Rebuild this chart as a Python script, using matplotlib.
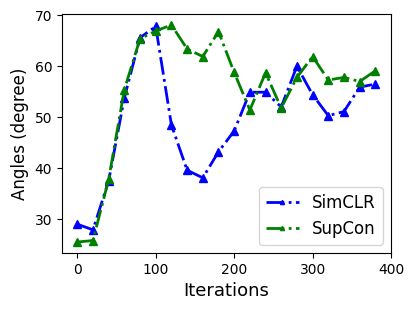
import matplotlib
matplotlib.use("Agg")
import matplotlib.pyplot as plt

iterations = [0, 20, 40, 60, 80, 100, 120, 140, 160, 180,
              200, 220, 240, 260, 280, 300, 320, 340, 360, 380]
simclr = [29.0, 27.9, 37.5, 53.8, 65.6, 67.8, 48.5, 39.6, 38.1, 43.2,
          47.3, 54.9, 54.9, 52.0, 60.0, 54.4, 50.3, 51.1, 55.9, 56.5]
supcon = [25.5, 25.8, 37.8, 55.4, 65.4, 66.9, 68.1, 63.4, 61.9, 66.8,
          58.8, 51.4, 58.7, 51.8, 57.8, 61.9, 57.3, 57.8, 57.0, 59.1]

fig = plt.figure(figsize=(4.16, 3.13), dpi=100)
ax = fig.add_axes([0.149, 0.192, 0.791, 0.763])

ax.plot(iterations, simclr, "b-.^", lw=2, ms=6, label="SimCLR")
ax.plot(iterations, supcon, "g-.^", lw=2, ms=6, label="SupCon")

ax.set_xlim(-19.5, 400)
ax.set_xticks([0, 100, 200, 300, 400])
ax.set_yticks([30, 40, 50, 60, 70])
ax.tick_params(labelsize=10)
ax.set_xlabel("Iterations", fontsize=13)
ax.set_ylabel("Angles (degree)", fontsize=12)
ax.legend(loc="lower right", fontsize=12, markerscale=0.5)

fig.savefig("out.png", dpi=100)
